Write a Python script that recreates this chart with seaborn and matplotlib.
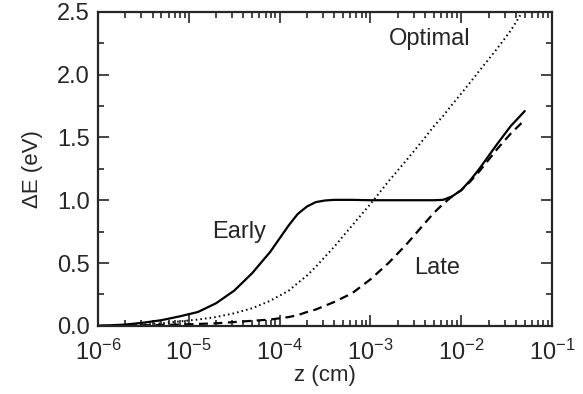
import numpy as np
import pandas as pd
import seaborn as sns
import matplotlib
matplotlib.use('Agg')
import matplotlib.pyplot as plt
from matplotlib.ticker import LogLocator, MultipleLocator, NullFormatter

# depth z (cm), shared by all three curves
z_cm = [1.0e-6, 2.0e-6, 3.16e-6, 5.0e-6, 7.9e-6, 1.26e-5, 2.0e-5, 3.16e-5,
        5.0e-5, 7.9e-5, 1.26e-4, 1.58e-4, 2.0e-4, 2.5e-4, 3.16e-4, 4.0e-4,
        6.3e-4, 1.0e-3, 1.58e-3, 2.5e-3, 4.0e-3, 5.0e-3, 6.3e-3, 7.9e-3,
        1.0e-2, 1.26e-2, 1.58e-2, 2.5e-2, 3.5e-2, 5.0e-2]

# energy shift dE (eV)
early = [0.0, 0.01, 0.025, 0.045, 0.075, 0.11, 0.18, 0.28,
         0.42, 0.59, 0.80, 0.89, 0.95, 0.985, 0.998, 1.003,
         1.003, 1.0, 1.0, 1.0, 1.0, 1.0, 1.003, 1.03,
         1.08, 1.16, 1.25, 1.45, 1.59, 1.71]
optimal = [0.0, 0.005, 0.01, 0.02, 0.035, 0.05, 0.07, 0.10,
           0.14, 0.20, 0.28, 0.34, 0.40, 0.47, 0.55, 0.63,
           0.80, 0.97, 1.15, 1.32, 1.50, 1.59, 1.67, 1.76,
           1.85, 1.94, 2.03, 2.21, 2.35, 2.53]
late = [0.0, 0.002, 0.004, 0.007, 0.01, 0.015, 0.02, 0.03,
        0.04, 0.05, 0.07, 0.085, 0.11, 0.13, 0.16, 0.19,
        0.26, 0.37, 0.50, 0.65, 0.82, 0.90, 0.97, 1.03,
        1.08, 1.15, 1.23, 1.41, 1.53, 1.64]

xticks = [1e-6, 1e-5, 1e-4, 1e-3, 1e-2, 1e-1]
xtick_labels = ['$10^{-6}$', '$10^{-5}$', '$10^{-4}$', '$10^{-3}$', '$10^{-2}$', '$10^{-1}$']
yticks = [0.0, 0.5, 1.0, 1.5, 2.0, 2.5]

sns.set_style('ticks')
plt.rcParams['font.family'] = ['Liberation Sans', 'DejaVu Sans']
plt.rcParams['mathtext.fontset'] = 'custom'
plt.rcParams['mathtext.rm'] = 'Liberation Sans'
plt.rcParams['mathtext.it'] = 'Liberation Sans'

fig = plt.figure(figsize=(5.83, 3.94), dpi=100)
ax = fig.add_axes([0.168, 0.173, 0.779, 0.797])

sns.lineplot(x=z_cm, y=early, ax=ax, color='black', lw=1.6)
sns.lineplot(x=z_cm, y=optimal, ax=ax, color='black', lw=1.4, linestyle=(0, (0.8, 1.6)))
sns.lineplot(x=z_cm, y=late, ax=ax, color='black', lw=1.6, linestyle=(0, (4, 2.5)))

ax.set_xscale('log')
ax.set_xlim(1e-6, 1e-1)
ax.set_ylim(0, 2.5)

ax.set_xticks(xticks)
ax.set_xticklabels(xtick_labels)
ax.xaxis.set_minor_locator(LogLocator(base=10, subs=np.arange(2, 10), numticks=20))
ax.xaxis.set_minor_formatter(NullFormatter())
ax.set_yticks(yticks)
ax.set_yticklabels([f'{v:.1f}' for v in yticks])
ax.yaxis.set_minor_locator(MultipleLocator(0.25))

ax.tick_params(which='both', direction='in', top=True, right=True, width=1.2)
ax.tick_params(which='major', length=8, labelsize=17, pad=6)
ax.tick_params(axis='x', which='major', pad=10)
ax.tick_params(which='minor', length=4)
for s in ax.spines.values():
    s.set_linewidth(1.6)

ax.set_xlabel('z (cm)', fontsize=16, labelpad=0)
ax.set_ylabel('ΔE (eV)', fontsize=16, labelpad=10)

ax.text(4.5e-3, 2.28, 'Optimal', fontsize=17, ha='center', va='center')
ax.text(3.6e-5, 0.75, 'Early', fontsize=17, ha='center', va='center')
ax.text(5.4e-3, 0.46, 'Late', fontsize=17, ha='center', va='center')

fig.savefig('out.png', dpi=100)
